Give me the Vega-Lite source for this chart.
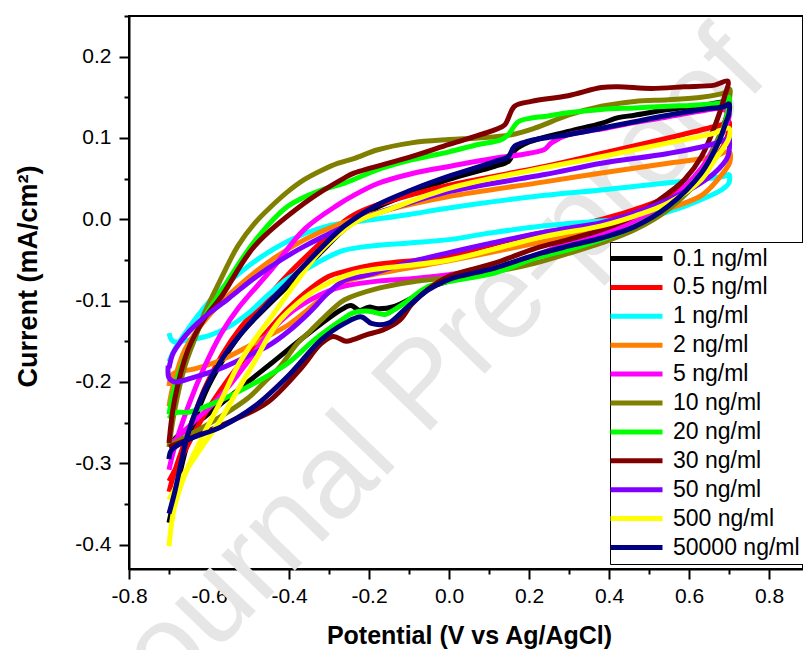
{
"$schema":"https://vega.github.io/schema/vega-lite/v6.json",
"autosize":{"type":"none"},
"padding":{"left":129,"top":16,"right":0,"bottom":81},
"width":674,"height":553,
"background":"white",
"config":{"font":"Liberation Sans","view":{"stroke":"black","strokeWidth":2}},
"datasets":{"cv":[
{"c":"0.1 ng/ml","o":1,"v":-0.700,"i":-0.373},{"c":"0.1 ng/ml","o":2,"v":-0.690,"i":-0.350},{"c":"0.1 ng/ml","o":3,"v":-0.652,"i":-0.272},{"c":"0.1 ng/ml","o":4,"v":-0.611,"i":-0.215},{"c":"0.1 ng/ml","o":5,"v":-0.569,"i":-0.176},{"c":"0.1 ng/ml","o":6,"v":-0.519,"i":-0.140},{"c":"0.1 ng/ml","o":7,"v":-0.461,"i":-0.110},{"c":"0.1 ng/ml","o":8,"v":-0.403,"i":-0.082},{"c":"0.1 ng/ml","o":9,"v":-0.319,"i":-0.040},{"c":"0.1 ng/ml","o":10,"v":-0.261,"i":-0.012},{"c":"0.1 ng/ml","o":11,"v":-0.178,"i":0.015},{"c":"0.1 ng/ml","o":12,"v":-0.094,"i":0.032},{"c":"0.1 ng/ml","o":13,"v":0.000,"i":0.049},{"c":"0.1 ng/ml","o":14,"v":0.114,"i":0.065},{"c":"0.1 ng/ml","o":15,"v":0.150,"i":0.072},{"c":"0.1 ng/ml","o":16,"v":0.165,"i":0.085},{"c":"0.1 ng/ml","o":17,"v":0.200,"i":0.095},{"c":"0.1 ng/ml","o":18,"v":0.298,"i":0.108},{"c":"0.1 ng/ml","o":19,"v":0.381,"i":0.118},{"c":"0.1 ng/ml","o":20,"v":0.423,"i":0.125},{"c":"0.1 ng/ml","o":21,"v":0.464,"i":0.128},{"c":"0.1 ng/ml","o":22,"v":0.548,"i":0.135},{"c":"0.1 ng/ml","o":23,"v":0.631,"i":0.140},{"c":"0.1 ng/ml","o":24,"v":0.689,"i":0.145},{"c":"0.1 ng/ml","o":25,"v":0.700,"i":0.146},{"c":"0.1 ng/ml","o":26,"v":0.700,"i":0.135},{"c":"0.1 ng/ml","o":27,"v":0.690,"i":0.120},{"c":"0.1 ng/ml","o":28,"v":0.670,"i":0.092},{"c":"0.1 ng/ml","o":29,"v":0.631,"i":0.055},{"c":"0.1 ng/ml","o":30,"v":0.548,"i":0.014},{"c":"0.1 ng/ml","o":31,"v":0.464,"i":-0.011},{"c":"0.1 ng/ml","o":32,"v":0.381,"i":-0.025},{"c":"0.1 ng/ml","o":33,"v":0.298,"i":-0.036},{"c":"0.1 ng/ml","o":34,"v":0.214,"i":-0.046},{"c":"0.1 ng/ml","o":35,"v":0.114,"i":-0.062},{"c":"0.1 ng/ml","o":36,"v":0.000,"i":-0.076},{"c":"0.1 ng/ml","o":37,"v":-0.053,"i":-0.085},{"c":"0.1 ng/ml","o":38,"v":-0.094,"i":-0.097},{"c":"0.1 ng/ml","o":39,"v":-0.136,"i":-0.107},{"c":"0.1 ng/ml","o":40,"v":-0.178,"i":-0.110},{"c":"0.1 ng/ml","o":41,"v":-0.200,"i":-0.108},{"c":"0.1 ng/ml","o":42,"v":-0.223,"i":-0.112},{"c":"0.1 ng/ml","o":43,"v":-0.245,"i":-0.106},{"c":"0.1 ng/ml","o":44,"v":-0.269,"i":-0.111},{"c":"0.1 ng/ml","o":45,"v":-0.361,"i":-0.144},{"c":"0.1 ng/ml","o":46,"v":-0.444,"i":-0.177},{"c":"0.1 ng/ml","o":47,"v":-0.528,"i":-0.210},{"c":"0.1 ng/ml","o":48,"v":-0.611,"i":-0.243},{"c":"0.1 ng/ml","o":49,"v":-0.686,"i":-0.270},{"c":"0.1 ng/ml","o":50,"v":-0.700,"i":-0.280},
{"c":"0.5 ng/ml","o":1,"v":-0.700,"i":-0.335},{"c":"0.5 ng/ml","o":2,"v":-0.686,"i":-0.310},{"c":"0.5 ng/ml","o":3,"v":-0.652,"i":-0.262},{"c":"0.5 ng/ml","o":4,"v":-0.611,"i":-0.208},{"c":"0.5 ng/ml","o":5,"v":-0.569,"i":-0.168},{"c":"0.5 ng/ml","o":6,"v":-0.519,"i":-0.132},{"c":"0.5 ng/ml","o":7,"v":-0.461,"i":-0.100},{"c":"0.5 ng/ml","o":8,"v":-0.403,"i":-0.068},{"c":"0.5 ng/ml","o":9,"v":-0.319,"i":-0.028},{"c":"0.5 ng/ml","o":10,"v":-0.261,"i":-0.002},{"c":"0.5 ng/ml","o":11,"v":-0.236,"i":0.006},{"c":"0.5 ng/ml","o":12,"v":-0.178,"i":0.018},{"c":"0.5 ng/ml","o":13,"v":-0.094,"i":0.030},{"c":"0.5 ng/ml","o":14,"v":0.000,"i":0.042},{"c":"0.5 ng/ml","o":15,"v":0.239,"i":0.065},{"c":"0.5 ng/ml","o":16,"v":0.381,"i":0.081},{"c":"0.5 ng/ml","o":17,"v":0.548,"i":0.100},{"c":"0.5 ng/ml","o":18,"v":0.648,"i":0.112},{"c":"0.5 ng/ml","o":19,"v":0.693,"i":0.118},{"c":"0.5 ng/ml","o":20,"v":0.700,"i":0.120},{"c":"0.5 ng/ml","o":21,"v":0.700,"i":0.110},{"c":"0.5 ng/ml","o":22,"v":0.681,"i":0.086},{"c":"0.5 ng/ml","o":23,"v":0.631,"i":0.057},{"c":"0.5 ng/ml","o":24,"v":0.548,"i":0.028},{"c":"0.5 ng/ml","o":25,"v":0.464,"i":0.012},{"c":"0.5 ng/ml","o":26,"v":0.381,"i":0.000},{"c":"0.5 ng/ml","o":27,"v":0.298,"i":-0.011},{"c":"0.5 ng/ml","o":28,"v":0.239,"i":-0.016},{"c":"0.5 ng/ml","o":29,"v":0.114,"i":-0.030},{"c":"0.5 ng/ml","o":30,"v":0.000,"i":-0.045},{"c":"0.5 ng/ml","o":31,"v":-0.200,"i":-0.057},{"c":"0.5 ng/ml","o":32,"v":-0.261,"i":-0.064},{"c":"0.5 ng/ml","o":33,"v":-0.300,"i":-0.070},{"c":"0.5 ng/ml","o":34,"v":-0.346,"i":-0.085},{"c":"0.5 ng/ml","o":35,"v":-0.403,"i":-0.110},{"c":"0.5 ng/ml","o":36,"v":-0.444,"i":-0.132},{"c":"0.5 ng/ml","o":37,"v":-0.528,"i":-0.181},{"c":"0.5 ng/ml","o":38,"v":-0.611,"i":-0.240},{"c":"0.5 ng/ml","o":39,"v":-0.669,"i":-0.293},{"c":"0.5 ng/ml","o":40,"v":-0.700,"i":-0.322},
{"c":"1 ng/ml","o":1,"v":-0.700,"i":-0.175},{"c":"1 ng/ml","o":2,"v":-0.686,"i":-0.160},{"c":"1 ng/ml","o":3,"v":-0.648,"i":-0.132},{"c":"1 ng/ml","o":4,"v":-0.592,"i":-0.097},{"c":"1 ng/ml","o":5,"v":-0.503,"i":-0.058},{"c":"1 ng/ml","o":6,"v":-0.403,"i":-0.027},{"c":"1 ng/ml","o":7,"v":-0.302,"i":-0.008},{"c":"1 ng/ml","o":8,"v":-0.200,"i":-0.001},{"c":"1 ng/ml","o":9,"v":-0.100,"i":0.006},{"c":"1 ng/ml","o":10,"v":0.000,"i":0.014},{"c":"1 ng/ml","o":11,"v":0.214,"i":0.028},{"c":"1 ng/ml","o":12,"v":0.381,"i":0.036},{"c":"1 ng/ml","o":13,"v":0.548,"i":0.045},{"c":"1 ng/ml","o":14,"v":0.631,"i":0.049},{"c":"1 ng/ml","o":15,"v":0.690,"i":0.053},{"c":"1 ng/ml","o":16,"v":0.700,"i":0.055},{"c":"1 ng/ml","o":17,"v":0.700,"i":0.045},{"c":"1 ng/ml","o":18,"v":0.681,"i":0.036},{"c":"1 ng/ml","o":19,"v":0.648,"i":0.028},{"c":"1 ng/ml","o":20,"v":0.589,"i":0.016},{"c":"1 ng/ml","o":21,"v":0.506,"i":0.004},{"c":"1 ng/ml","o":22,"v":0.381,"i":-0.002},{"c":"1 ng/ml","o":23,"v":0.239,"i":-0.008},{"c":"1 ng/ml","o":24,"v":0.100,"i":-0.017},{"c":"1 ng/ml","o":25,"v":0.000,"i":-0.025},{"c":"1 ng/ml","o":26,"v":-0.100,"i":-0.029},{"c":"1 ng/ml","o":27,"v":-0.200,"i":-0.033},{"c":"1 ng/ml","o":28,"v":-0.261,"i":-0.038},{"c":"1 ng/ml","o":29,"v":-0.301,"i":-0.046},{"c":"1 ng/ml","o":30,"v":-0.346,"i":-0.058},{"c":"1 ng/ml","o":31,"v":-0.403,"i":-0.073},{"c":"1 ng/ml","o":32,"v":-0.450,"i":-0.092},{"c":"1 ng/ml","o":33,"v":-0.503,"i":-0.116},{"c":"1 ng/ml","o":34,"v":-0.550,"i":-0.132},{"c":"1 ng/ml","o":35,"v":-0.600,"i":-0.143},{"c":"1 ng/ml","o":36,"v":-0.648,"i":-0.148},{"c":"1 ng/ml","o":37,"v":-0.690,"i":-0.150},{"c":"1 ng/ml","o":38,"v":-0.700,"i":-0.140},
{"c":"2 ng/ml","o":1,"v":-0.700,"i":-0.230},{"c":"2 ng/ml","o":2,"v":-0.690,"i":-0.205},{"c":"2 ng/ml","o":3,"v":-0.660,"i":-0.160},{"c":"2 ng/ml","o":4,"v":-0.603,"i":-0.120},{"c":"2 ng/ml","o":5,"v":-0.528,"i":-0.083},{"c":"2 ng/ml","o":6,"v":-0.444,"i":-0.050},{"c":"2 ng/ml","o":7,"v":-0.361,"i":-0.025},{"c":"2 ng/ml","o":8,"v":-0.269,"i":-0.005},{"c":"2 ng/ml","o":9,"v":-0.150,"i":0.012},{"c":"2 ng/ml","o":10,"v":0.000,"i":0.028},{"c":"2 ng/ml","o":11,"v":0.239,"i":0.046},{"c":"2 ng/ml","o":12,"v":0.381,"i":0.057},{"c":"2 ng/ml","o":13,"v":0.548,"i":0.069},{"c":"2 ng/ml","o":14,"v":0.660,"i":0.077},{"c":"2 ng/ml","o":15,"v":0.700,"i":0.083},{"c":"2 ng/ml","o":16,"v":0.702,"i":0.070},{"c":"2 ng/ml","o":17,"v":0.690,"i":0.060},{"c":"2 ng/ml","o":18,"v":0.677,"i":0.052},{"c":"2 ng/ml","o":19,"v":0.650,"i":0.037},{"c":"2 ng/ml","o":20,"v":0.627,"i":0.028},{"c":"2 ng/ml","o":21,"v":0.543,"i":0.012},{"c":"2 ng/ml","o":22,"v":0.460,"i":0.000},{"c":"2 ng/ml","o":23,"v":0.381,"i":-0.012},{"c":"2 ng/ml","o":24,"v":0.239,"i":-0.027},{"c":"2 ng/ml","o":25,"v":0.000,"i":-0.051},{"c":"2 ng/ml","o":26,"v":-0.200,"i":-0.069},{"c":"2 ng/ml","o":27,"v":-0.261,"i":-0.077},{"c":"2 ng/ml","o":28,"v":-0.301,"i":-0.090},{"c":"2 ng/ml","o":29,"v":-0.350,"i":-0.110},{"c":"2 ng/ml","o":30,"v":-0.402,"i":-0.130},{"c":"2 ng/ml","o":31,"v":-0.486,"i":-0.152},{"c":"2 ng/ml","o":32,"v":-0.569,"i":-0.173},{"c":"2 ng/ml","o":33,"v":-0.636,"i":-0.184},{"c":"2 ng/ml","o":34,"v":-0.690,"i":-0.190},{"c":"2 ng/ml","o":35,"v":-0.700,"i":-0.205},
{"c":"5 ng/ml","o":1,"v":-0.700,"i":-0.308},{"c":"5 ng/ml","o":2,"v":-0.686,"i":-0.280},{"c":"5 ng/ml","o":3,"v":-0.652,"i":-0.230},{"c":"5 ng/ml","o":4,"v":-0.611,"i":-0.181},{"c":"5 ng/ml","o":5,"v":-0.569,"i":-0.140},{"c":"5 ng/ml","o":6,"v":-0.528,"i":-0.110},{"c":"5 ng/ml","o":7,"v":-0.444,"i":-0.062},{"c":"5 ng/ml","o":8,"v":-0.361,"i":-0.012},{"c":"5 ng/ml","o":9,"v":-0.277,"i":0.018},{"c":"5 ng/ml","o":10,"v":-0.236,"i":0.030},{"c":"5 ng/ml","o":11,"v":-0.178,"i":0.044},{"c":"5 ng/ml","o":12,"v":-0.094,"i":0.056},{"c":"5 ng/ml","o":13,"v":0.000,"i":0.065},{"c":"5 ng/ml","o":14,"v":0.114,"i":0.075},{"c":"5 ng/ml","o":15,"v":0.198,"i":0.081},{"c":"5 ng/ml","o":16,"v":0.239,"i":0.086},{"c":"5 ng/ml","o":17,"v":0.256,"i":0.094},{"c":"5 ng/ml","o":18,"v":0.298,"i":0.104},{"c":"5 ng/ml","o":19,"v":0.381,"i":0.111},{"c":"5 ng/ml","o":20,"v":0.464,"i":0.119},{"c":"5 ng/ml","o":21,"v":0.548,"i":0.126},{"c":"5 ng/ml","o":22,"v":0.630,"i":0.133},{"c":"5 ng/ml","o":23,"v":0.680,"i":0.136},{"c":"5 ng/ml","o":24,"v":0.700,"i":0.130},{"c":"5 ng/ml","o":25,"v":0.690,"i":0.112},{"c":"5 ng/ml","o":26,"v":0.664,"i":0.090},{"c":"5 ng/ml","o":27,"v":0.631,"i":0.063},{"c":"5 ng/ml","o":28,"v":0.548,"i":0.022},{"c":"5 ng/ml","o":29,"v":0.464,"i":-0.002},{"c":"5 ng/ml","o":30,"v":0.381,"i":-0.018},{"c":"5 ng/ml","o":31,"v":0.298,"i":-0.029},{"c":"5 ng/ml","o":32,"v":0.239,"i":-0.040},{"c":"5 ng/ml","o":33,"v":0.114,"i":-0.060},{"c":"5 ng/ml","o":34,"v":0.000,"i":-0.068},{"c":"5 ng/ml","o":35,"v":-0.094,"i":-0.073},{"c":"5 ng/ml","o":36,"v":-0.178,"i":-0.076},{"c":"5 ng/ml","o":37,"v":-0.261,"i":-0.082},{"c":"5 ng/ml","o":38,"v":-0.300,"i":-0.088},{"c":"5 ng/ml","o":39,"v":-0.350,"i":-0.100},{"c":"5 ng/ml","o":40,"v":-0.402,"i":-0.117},{"c":"5 ng/ml","o":41,"v":-0.450,"i":-0.140},{"c":"5 ng/ml","o":42,"v":-0.503,"i":-0.175},{"c":"5 ng/ml","o":43,"v":-0.550,"i":-0.205},{"c":"5 ng/ml","o":44,"v":-0.592,"i":-0.228},{"c":"5 ng/ml","o":45,"v":-0.640,"i":-0.250},{"c":"5 ng/ml","o":46,"v":-0.682,"i":-0.270},{"c":"5 ng/ml","o":47,"v":-0.700,"i":-0.280},
{"c":"10 ng/ml","o":1,"v":-0.700,"i":-0.280},{"c":"10 ng/ml","o":2,"v":-0.686,"i":-0.235},{"c":"10 ng/ml","o":3,"v":-0.660,"i":-0.180},{"c":"10 ng/ml","o":4,"v":-0.630,"i":-0.140},{"c":"10 ng/ml","o":5,"v":-0.611,"i":-0.115},{"c":"10 ng/ml","o":6,"v":-0.569,"i":-0.072},{"c":"10 ng/ml","o":7,"v":-0.528,"i":-0.033},{"c":"10 ng/ml","o":8,"v":-0.486,"i":-0.005},{"c":"10 ng/ml","o":9,"v":-0.444,"i":0.016},{"c":"10 ng/ml","o":10,"v":-0.403,"i":0.034},{"c":"10 ng/ml","o":11,"v":-0.361,"i":0.049},{"c":"10 ng/ml","o":12,"v":-0.319,"i":0.060},{"c":"10 ng/ml","o":13,"v":-0.277,"i":0.069},{"c":"10 ng/ml","o":14,"v":-0.236,"i":0.075},{"c":"10 ng/ml","o":15,"v":-0.178,"i":0.0855},{"c":"10 ng/ml","o":16,"v":-0.094,"i":0.094},{"c":"10 ng/ml","o":17,"v":0.000,"i":0.098},{"c":"10 ng/ml","o":18,"v":0.073,"i":0.100},{"c":"10 ng/ml","o":19,"v":0.156,"i":0.104},{"c":"10 ng/ml","o":20,"v":0.214,"i":0.112},{"c":"10 ng/ml","o":21,"v":0.298,"i":0.128},{"c":"10 ng/ml","o":22,"v":0.381,"i":0.139},{"c":"10 ng/ml","o":23,"v":0.464,"i":0.145},{"c":"10 ng/ml","o":24,"v":0.548,"i":0.147},{"c":"10 ng/ml","o":25,"v":0.631,"i":0.150},{"c":"10 ng/ml","o":26,"v":0.690,"i":0.156},{"c":"10 ng/ml","o":27,"v":0.702,"i":0.160},{"c":"10 ng/ml","o":28,"v":0.700,"i":0.145},{"c":"10 ng/ml","o":29,"v":0.690,"i":0.120},{"c":"10 ng/ml","o":30,"v":0.664,"i":0.090},{"c":"10 ng/ml","o":31,"v":0.631,"i":0.053},{"c":"10 ng/ml","o":32,"v":0.548,"i":0.012},{"c":"10 ng/ml","o":33,"v":0.464,"i":-0.013},{"c":"10 ng/ml","o":34,"v":0.381,"i":-0.029},{"c":"10 ng/ml","o":35,"v":0.298,"i":-0.042},{"c":"10 ng/ml","o":36,"v":0.214,"i":-0.054},{"c":"10 ng/ml","o":37,"v":0.073,"i":-0.068},{"c":"10 ng/ml","o":38,"v":0.000,"i":-0.072},{"c":"10 ng/ml","o":39,"v":-0.094,"i":-0.077},{"c":"10 ng/ml","o":40,"v":-0.178,"i":-0.085},{"c":"10 ng/ml","o":41,"v":-0.261,"i":-0.099},{"c":"10 ng/ml","o":42,"v":-0.290,"i":-0.110},{"c":"10 ng/ml","o":43,"v":-0.346,"i":-0.137},{"c":"10 ng/ml","o":44,"v":-0.378,"i":-0.152},{"c":"10 ng/ml","o":45,"v":-0.424,"i":-0.182},{"c":"10 ng/ml","o":46,"v":-0.461,"i":-0.200},{"c":"10 ng/ml","o":47,"v":-0.503,"i":-0.220},{"c":"10 ng/ml","o":48,"v":-0.569,"i":-0.242},{"c":"10 ng/ml","o":49,"v":-0.630,"i":-0.260},{"c":"10 ng/ml","o":50,"v":-0.682,"i":-0.274},{"c":"10 ng/ml","o":51,"v":-0.700,"i":-0.280},
{"c":"20 ng/ml","o":1,"v":-0.700,"i":-0.240},{"c":"20 ng/ml","o":2,"v":-0.686,"i":-0.206},{"c":"20 ng/ml","o":3,"v":-0.652,"i":-0.160},{"c":"20 ng/ml","o":4,"v":-0.611,"i":-0.120},{"c":"20 ng/ml","o":5,"v":-0.569,"i":-0.088},{"c":"20 ng/ml","o":6,"v":-0.486,"i":-0.027},{"c":"20 ng/ml","o":7,"v":-0.403,"i":0.016},{"c":"20 ng/ml","o":8,"v":-0.319,"i":0.036},{"c":"20 ng/ml","o":9,"v":-0.261,"i":0.0445},{"c":"20 ng/ml","o":10,"v":-0.178,"i":0.061},{"c":"20 ng/ml","o":11,"v":-0.094,"i":0.073},{"c":"20 ng/ml","o":12,"v":0.000,"i":0.083},{"c":"20 ng/ml","o":13,"v":0.073,"i":0.092},{"c":"20 ng/ml","o":14,"v":0.131,"i":0.098},{"c":"20 ng/ml","o":15,"v":0.148,"i":0.104},{"c":"20 ng/ml","o":16,"v":0.173,"i":0.120},{"c":"20 ng/ml","o":17,"v":0.206,"i":0.1245},{"c":"20 ng/ml","o":18,"v":0.239,"i":0.1265},{"c":"20 ng/ml","o":19,"v":0.298,"i":0.131},{"c":"20 ng/ml","o":20,"v":0.381,"i":0.135},{"c":"20 ng/ml","o":21,"v":0.464,"i":0.137},{"c":"20 ng/ml","o":22,"v":0.548,"i":0.139},{"c":"20 ng/ml","o":23,"v":0.631,"i":0.141},{"c":"20 ng/ml","o":24,"v":0.693,"i":0.145},{"c":"20 ng/ml","o":25,"v":0.700,"i":0.150},{"c":"20 ng/ml","o":26,"v":0.697,"i":0.131},{"c":"20 ng/ml","o":27,"v":0.673,"i":0.094},{"c":"20 ng/ml","o":28,"v":0.631,"i":0.057},{"c":"20 ng/ml","o":29,"v":0.548,"i":0.016},{"c":"20 ng/ml","o":30,"v":0.464,"i":-0.009},{"c":"20 ng/ml","o":31,"v":0.381,"i":-0.025},{"c":"20 ng/ml","o":32,"v":0.298,"i":-0.0375},{"c":"20 ng/ml","o":33,"v":0.214,"i":-0.048},{"c":"20 ng/ml","o":34,"v":0.114,"i":-0.066},{"c":"20 ng/ml","o":35,"v":0.000,"i":-0.0765},{"c":"20 ng/ml","o":36,"v":-0.053,"i":-0.083},{"c":"20 ng/ml","o":37,"v":-0.111,"i":-0.103},{"c":"20 ng/ml","o":38,"v":-0.136,"i":-0.111},{"c":"20 ng/ml","o":39,"v":-0.160,"i":-0.117},{"c":"20 ng/ml","o":40,"v":-0.200,"i":-0.113},{"c":"20 ng/ml","o":41,"v":-0.240,"i":-0.115},{"c":"20 ng/ml","o":42,"v":-0.269,"i":-0.124},{"c":"20 ng/ml","o":43,"v":-0.336,"i":-0.148},{"c":"20 ng/ml","o":44,"v":-0.403,"i":-0.177},{"c":"20 ng/ml","o":45,"v":-0.486,"i":-0.2015},{"c":"20 ng/ml","o":46,"v":-0.569,"i":-0.222},{"c":"20 ng/ml","o":47,"v":-0.648,"i":-0.237},{"c":"20 ng/ml","o":48,"v":-0.686,"i":-0.238},{"c":"20 ng/ml","o":49,"v":-0.700,"i":-0.245},
{"c":"30 ng/ml","o":1,"v":-0.700,"i":-0.275},{"c":"30 ng/ml","o":2,"v":-0.686,"i":-0.222},{"c":"30 ng/ml","o":3,"v":-0.652,"i":-0.160},{"c":"30 ng/ml","o":4,"v":-0.611,"i":-0.122},{"c":"30 ng/ml","o":5,"v":-0.569,"i":-0.095},{"c":"30 ng/ml","o":6,"v":-0.486,"i":-0.033},{"c":"30 ng/ml","o":7,"v":-0.361,"i":0.020},{"c":"30 ng/ml","o":8,"v":-0.261,"i":0.051},{"c":"30 ng/ml","o":9,"v":-0.236,"i":0.057},{"c":"30 ng/ml","o":10,"v":-0.094,"i":0.077},{"c":"30 ng/ml","o":11,"v":0.000,"i":0.092},{"c":"30 ng/ml","o":12,"v":0.114,"i":0.110},{"c":"30 ng/ml","o":13,"v":0.139,"i":0.116},{"c":"30 ng/ml","o":14,"v":0.164,"i":0.139},{"c":"30 ng/ml","o":15,"v":0.206,"i":0.145},{"c":"30 ng/ml","o":16,"v":0.298,"i":0.152},{"c":"30 ng/ml","o":17,"v":0.381,"i":0.162},{"c":"30 ng/ml","o":18,"v":0.423,"i":0.163},{"c":"30 ng/ml","o":19,"v":0.506,"i":0.161},{"c":"30 ng/ml","o":20,"v":0.589,"i":0.163},{"c":"30 ng/ml","o":21,"v":0.664,"i":0.165},{"c":"30 ng/ml","o":22,"v":0.697,"i":0.170},{"c":"30 ng/ml","o":23,"v":0.689,"i":0.151},{"c":"30 ng/ml","o":24,"v":0.664,"i":0.114},{"c":"30 ng/ml","o":25,"v":0.631,"i":0.077},{"c":"30 ng/ml","o":26,"v":0.589,"i":0.049},{"c":"30 ng/ml","o":27,"v":0.548,"i":0.032},{"c":"30 ng/ml","o":28,"v":0.464,"i":0.004},{"c":"30 ng/ml","o":29,"v":0.381,"i":-0.013},{"c":"30 ng/ml","o":30,"v":0.298,"i":-0.025},{"c":"30 ng/ml","o":31,"v":0.214,"i":-0.036},{"c":"30 ng/ml","o":32,"v":0.114,"i":-0.054},{"c":"30 ng/ml","o":33,"v":0.000,"i":-0.070},{"c":"30 ng/ml","o":34,"v":-0.050,"i":-0.085},{"c":"30 ng/ml","o":35,"v":-0.094,"i":-0.105},{"c":"30 ng/ml","o":36,"v":-0.123,"i":-0.124},{"c":"30 ng/ml","o":37,"v":-0.165,"i":-0.136},{"c":"30 ng/ml","o":38,"v":-0.207,"i":-0.142},{"c":"30 ng/ml","o":39,"v":-0.240,"i":-0.148},{"c":"30 ng/ml","o":40,"v":-0.257,"i":-0.150},{"c":"30 ng/ml","o":41,"v":-0.290,"i":-0.144},{"c":"30 ng/ml","o":42,"v":-0.320,"i":-0.153},{"c":"30 ng/ml","o":43,"v":-0.373,"i":-0.185},{"c":"30 ng/ml","o":44,"v":-0.456,"i":-0.226},{"c":"30 ng/ml","o":45,"v":-0.540,"i":-0.247},{"c":"30 ng/ml","o":46,"v":-0.611,"i":-0.262},{"c":"30 ng/ml","o":47,"v":-0.669,"i":-0.274},{"c":"30 ng/ml","o":48,"v":-0.700,"i":-0.280},
{"c":"50 ng/ml","o":1,"v":-0.700,"i":-0.183},{"c":"50 ng/ml","o":2,"v":-0.690,"i":-0.165},{"c":"50 ng/ml","o":3,"v":-0.670,"i":-0.150},{"c":"50 ng/ml","o":4,"v":-0.648,"i":-0.137},{"c":"50 ng/ml","o":5,"v":-0.611,"i":-0.120},{"c":"50 ng/ml","o":6,"v":-0.550,"i":-0.097},{"c":"50 ng/ml","o":7,"v":-0.486,"i":-0.072},{"c":"50 ng/ml","o":8,"v":-0.420,"i":-0.050},{"c":"50 ng/ml","o":9,"v":-0.361,"i":-0.033},{"c":"50 ng/ml","o":10,"v":-0.261,"i":-0.009},{"c":"50 ng/ml","o":11,"v":-0.200,"i":0.004},{"c":"50 ng/ml","o":12,"v":-0.100,"i":0.020},{"c":"50 ng/ml","o":13,"v":0.000,"i":0.034},{"c":"50 ng/ml","o":14,"v":0.239,"i":0.055},{"c":"50 ng/ml","o":15,"v":0.381,"i":0.069},{"c":"50 ng/ml","o":16,"v":0.548,"i":0.081},{"c":"50 ng/ml","o":17,"v":0.656,"i":0.092},{"c":"50 ng/ml","o":18,"v":0.697,"i":0.100},{"c":"50 ng/ml","o":19,"v":0.700,"i":0.103},{"c":"50 ng/ml","o":20,"v":0.697,"i":0.077},{"c":"50 ng/ml","o":21,"v":0.664,"i":0.057},{"c":"50 ng/ml","o":22,"v":0.614,"i":0.040},{"c":"50 ng/ml","o":23,"v":0.548,"i":0.024},{"c":"50 ng/ml","o":24,"v":0.464,"i":0.008},{"c":"50 ng/ml","o":25,"v":0.381,"i":-0.004},{"c":"50 ng/ml","o":26,"v":0.298,"i":-0.011},{"c":"50 ng/ml","o":27,"v":0.214,"i":-0.018},{"c":"50 ng/ml","o":28,"v":0.100,"i":-0.030},{"c":"50 ng/ml","o":29,"v":0.000,"i":-0.041},{"c":"50 ng/ml","o":30,"v":-0.100,"i":-0.053},{"c":"50 ng/ml","o":31,"v":-0.200,"i":-0.068},{"c":"50 ng/ml","o":32,"v":-0.261,"i":-0.075},{"c":"50 ng/ml","o":33,"v":-0.301,"i":-0.090},{"c":"50 ng/ml","o":34,"v":-0.350,"i":-0.115},{"c":"50 ng/ml","o":35,"v":-0.402,"i":-0.138},{"c":"50 ng/ml","o":36,"v":-0.450,"i":-0.155},{"c":"50 ng/ml","o":37,"v":-0.503,"i":-0.168},{"c":"50 ng/ml","o":38,"v":-0.569,"i":-0.183},{"c":"50 ng/ml","o":39,"v":-0.636,"i":-0.194},{"c":"50 ng/ml","o":40,"v":-0.686,"i":-0.200},{"c":"50 ng/ml","o":41,"v":-0.700,"i":-0.195},{"c":"50 ng/ml","o":42,"v":-0.702,"i":-0.180},
{"c":"500 ng/ml","o":1,"v":-0.700,"i":-0.402},{"c":"500 ng/ml","o":2,"v":-0.686,"i":-0.353},{"c":"500 ng/ml","o":3,"v":-0.652,"i":-0.304},{"c":"500 ng/ml","o":4,"v":-0.611,"i":-0.262},{"c":"500 ng/ml","o":5,"v":-0.569,"i":-0.222},{"c":"500 ng/ml","o":6,"v":-0.528,"i":-0.180},{"c":"500 ng/ml","o":7,"v":-0.486,"i":-0.148},{"c":"500 ng/ml","o":8,"v":-0.444,"i":-0.120},{"c":"500 ng/ml","o":9,"v":-0.386,"i":-0.080},{"c":"500 ng/ml","o":10,"v":-0.319,"i":-0.038},{"c":"500 ng/ml","o":11,"v":-0.236,"i":-0.004},{"c":"500 ng/ml","o":12,"v":-0.150,"i":0.012},{"c":"500 ng/ml","o":13,"v":0.000,"i":0.038},{"c":"500 ng/ml","o":14,"v":0.214,"i":0.061},{"c":"500 ng/ml","o":15,"v":0.381,"i":0.077},{"c":"500 ng/ml","o":16,"v":0.548,"i":0.094},{"c":"500 ng/ml","o":17,"v":0.664,"i":0.106},{"c":"500 ng/ml","o":18,"v":0.700,"i":0.112},{"c":"500 ng/ml","o":19,"v":0.700,"i":0.100},{"c":"500 ng/ml","o":20,"v":0.689,"i":0.090},{"c":"500 ng/ml","o":21,"v":0.664,"i":0.073},{"c":"500 ng/ml","o":22,"v":0.631,"i":0.049},{"c":"500 ng/ml","o":23,"v":0.548,"i":0.020},{"c":"500 ng/ml","o":24,"v":0.464,"i":0.004},{"c":"500 ng/ml","o":25,"v":0.381,"i":-0.008},{"c":"500 ng/ml","o":26,"v":0.239,"i":-0.021},{"c":"500 ng/ml","o":27,"v":0.000,"i":-0.050},{"c":"500 ng/ml","o":28,"v":-0.236,"i":-0.066},{"c":"500 ng/ml","o":29,"v":-0.319,"i":-0.083},{"c":"500 ng/ml","o":30,"v":-0.378,"i":-0.103},{"c":"500 ng/ml","o":31,"v":-0.419,"i":-0.122},{"c":"500 ng/ml","o":32,"v":-0.450,"i":-0.143},{"c":"500 ng/ml","o":33,"v":-0.486,"i":-0.175},{"c":"500 ng/ml","o":34,"v":-0.528,"i":-0.210},{"c":"500 ng/ml","o":35,"v":-0.569,"i":-0.245},{"c":"500 ng/ml","o":36,"v":-0.611,"i":-0.275},{"c":"500 ng/ml","o":37,"v":-0.652,"i":-0.305},{"c":"500 ng/ml","o":38,"v":-0.686,"i":-0.332},{"c":"500 ng/ml","o":39,"v":-0.700,"i":-0.345},
{"c":"50000 ng/ml","o":1,"v":-0.700,"i":-0.362},{"c":"50000 ng/ml","o":2,"v":-0.686,"i":-0.336},{"c":"50000 ng/ml","o":3,"v":-0.652,"i":-0.263},{"c":"50000 ng/ml","o":4,"v":-0.611,"i":-0.210},{"c":"50000 ng/ml","o":5,"v":-0.569,"i":-0.173},{"c":"50000 ng/ml","o":6,"v":-0.519,"i":-0.140},{"c":"50000 ng/ml","o":7,"v":-0.461,"i":-0.108},{"c":"50000 ng/ml","o":8,"v":-0.403,"i":-0.078},{"c":"50000 ng/ml","o":9,"v":-0.319,"i":-0.035},{"c":"50000 ng/ml","o":10,"v":-0.261,"i":-0.008},{"c":"50000 ng/ml","o":11,"v":-0.178,"i":0.018},{"c":"50000 ng/ml","o":12,"v":-0.094,"i":0.036},{"c":"50000 ng/ml","o":13,"v":0.000,"i":0.053},{"c":"50000 ng/ml","o":14,"v":0.114,"i":0.071},{"c":"50000 ng/ml","o":15,"v":0.148,"i":0.077},{"c":"50000 ng/ml","o":16,"v":0.164,"i":0.090},{"c":"50000 ng/ml","o":17,"v":0.198,"i":0.096},{"c":"50000 ng/ml","o":18,"v":0.239,"i":0.100},{"c":"50000 ng/ml","o":19,"v":0.298,"i":0.104},{"c":"50000 ng/ml","o":20,"v":0.381,"i":0.112},{"c":"50000 ng/ml","o":21,"v":0.464,"i":0.120},{"c":"50000 ng/ml","o":22,"v":0.548,"i":0.128},{"c":"50000 ng/ml","o":23,"v":0.631,"i":0.135},{"c":"50000 ng/ml","o":24,"v":0.689,"i":0.139},{"c":"50000 ng/ml","o":25,"v":0.700,"i":0.142},{"c":"50000 ng/ml","o":26,"v":0.700,"i":0.130},{"c":"50000 ng/ml","o":27,"v":0.693,"i":0.120},{"c":"50000 ng/ml","o":28,"v":0.673,"i":0.094},{"c":"50000 ng/ml","o":29,"v":0.631,"i":0.057},{"c":"50000 ng/ml","o":30,"v":0.548,"i":0.016},{"c":"50000 ng/ml","o":31,"v":0.464,"i":-0.009},{"c":"50000 ng/ml","o":32,"v":0.381,"i":-0.023},{"c":"50000 ng/ml","o":33,"v":0.298,"i":-0.033},{"c":"50000 ng/ml","o":34,"v":0.214,"i":-0.044},{"c":"50000 ng/ml","o":35,"v":0.114,"i":-0.060},{"c":"50000 ng/ml","o":36,"v":0.000,"i":-0.074},{"c":"50000 ng/ml","o":37,"v":-0.053,"i":-0.087},{"c":"50000 ng/ml","o":38,"v":-0.111,"i":-0.111},{"c":"50000 ng/ml","o":39,"v":-0.153,"i":-0.128},{"c":"50000 ng/ml","o":40,"v":-0.194,"i":-0.128},{"c":"50000 ng/ml","o":41,"v":-0.219,"i":-0.120},{"c":"50000 ng/ml","o":42,"v":-0.261,"i":-0.128},{"c":"50000 ng/ml","o":43,"v":-0.319,"i":-0.148},{"c":"50000 ng/ml","o":44,"v":-0.403,"i":-0.193},{"c":"50000 ng/ml","o":45,"v":-0.486,"i":-0.230},{"c":"50000 ng/ml","o":46,"v":-0.569,"i":-0.255},{"c":"50000 ng/ml","o":47,"v":-0.652,"i":-0.271},{"c":"50000 ng/ml","o":48,"v":-0.694,"i":-0.284},{"c":"50000 ng/ml","o":49,"v":-0.700,"i":-0.295}
],
"wm":[{"t":"Journal Pre-proof"}]},
"layer":[
{"data":{"name":"wm"},
 "mark":{"type":"text","angle":-46,"fontSize":120,"color":"#e6e6e6","font":"Liberation Sans"},
 "encoding":{"x":{"datum":-0.065,"type":"quantitative"},"y":{"datum":-0.205,"type":"quantitative"},"text":{"field":"t"}}},
{"data":{"name":"cv"},
 "mark":{"type":"line","strokeWidth":5,"interpolate":"catmull-rom","clip":true,"strokeJoin":"round"},
 "encoding":{
  "x":{"field":"v","type":"quantitative","scale":{"domain":[-0.8,0.885],"nice":false,"zero":false},
   "axis":{"values":[-0.8,-0.7,-0.6,-0.5,-0.4,-0.3,-0.2,-0.1,0,0.1,0.2,0.3,0.4,0.5,0.6,0.7,0.8],
    "labelExpr":"abs(round(datum.value*10))%2==0 ? replace(format(datum.value,'.1f'),'\u2212','-') : ''",
    "tickSize":{"condition":{"test":"abs(round(datum.value*10))%2==0","value":10},"value":5},
    "grid":false,"title":"Potential (V vs Ag/AgCl)","titleFontSize":25,"titleFontWeight":"bold","titleColor":"black","titlePadding":17,"titleX":340,
    "labelFontSize":21,"labelColor":"black","labelPadding":6,"labelOverlap":false,"labelFlush":false,
    "domainColor":"black","domainWidth":2,"tickColor":"black","tickWidth":2}},
  "y":{"field":"i","type":"quantitative","scale":{"domain":[-0.43,0.25],"nice":false,"zero":false},
   "axis":{"values":[-0.4,-0.35,-0.3,-0.25,-0.2,-0.15,-0.1,-0.05,0,0.05,0.1,0.15,0.2,0.25],
    "labelExpr":"abs(round(datum.value*20))%2==0 ? replace(format(datum.value,'.1f'),'\u2212','-') : ''",
    "tickSize":{"condition":{"test":"abs(round(datum.value*20))%2==0","value":10},"value":5},
    "grid":false,"title":"Current (mA/cm²)","titleFontSize":27,"titleFontWeight":"bold","titleColor":"black","titlePadding":32,"titleY":260,
    "labelFontSize":21,"labelColor":"black","labelPadding":8,"labelOverlap":false,"labelFlush":false,
    "domainColor":"black","domainWidth":2,"tickColor":"black","tickWidth":2}},
  "color":{"field":"c","type":"nominal",
   "scale":{"domain":["0.1 ng/ml","0.5 ng/ml","1 ng/ml","2 ng/ml","5 ng/ml","10 ng/ml","20 ng/ml","30 ng/ml","50 ng/ml","500 ng/ml","50000 ng/ml"],
    "range":["#000000","#FF0000","#00FFFF","#FF8000","#FF00FF","#808000","#00FF00","#800000","#8000FF","#FFFF00","#000080"]},
   "legend":{"orient":"none","legendX":481,"legendY":226,"title":null,
    "symbolType":"M-2.6,0H2.6","symbolSize":400,"symbolStrokeWidth":5,"symbolOffset":10,
    "labelOffset":24,"labelFontSize":23,"labelColor":"black","labelLimit":0,
    "rowPadding":3.9,"padding":4,"strokeColor":"black","fillColor":"white"}},
  "order":{"field":"o","type":"quantitative"}
 }}
]
}
